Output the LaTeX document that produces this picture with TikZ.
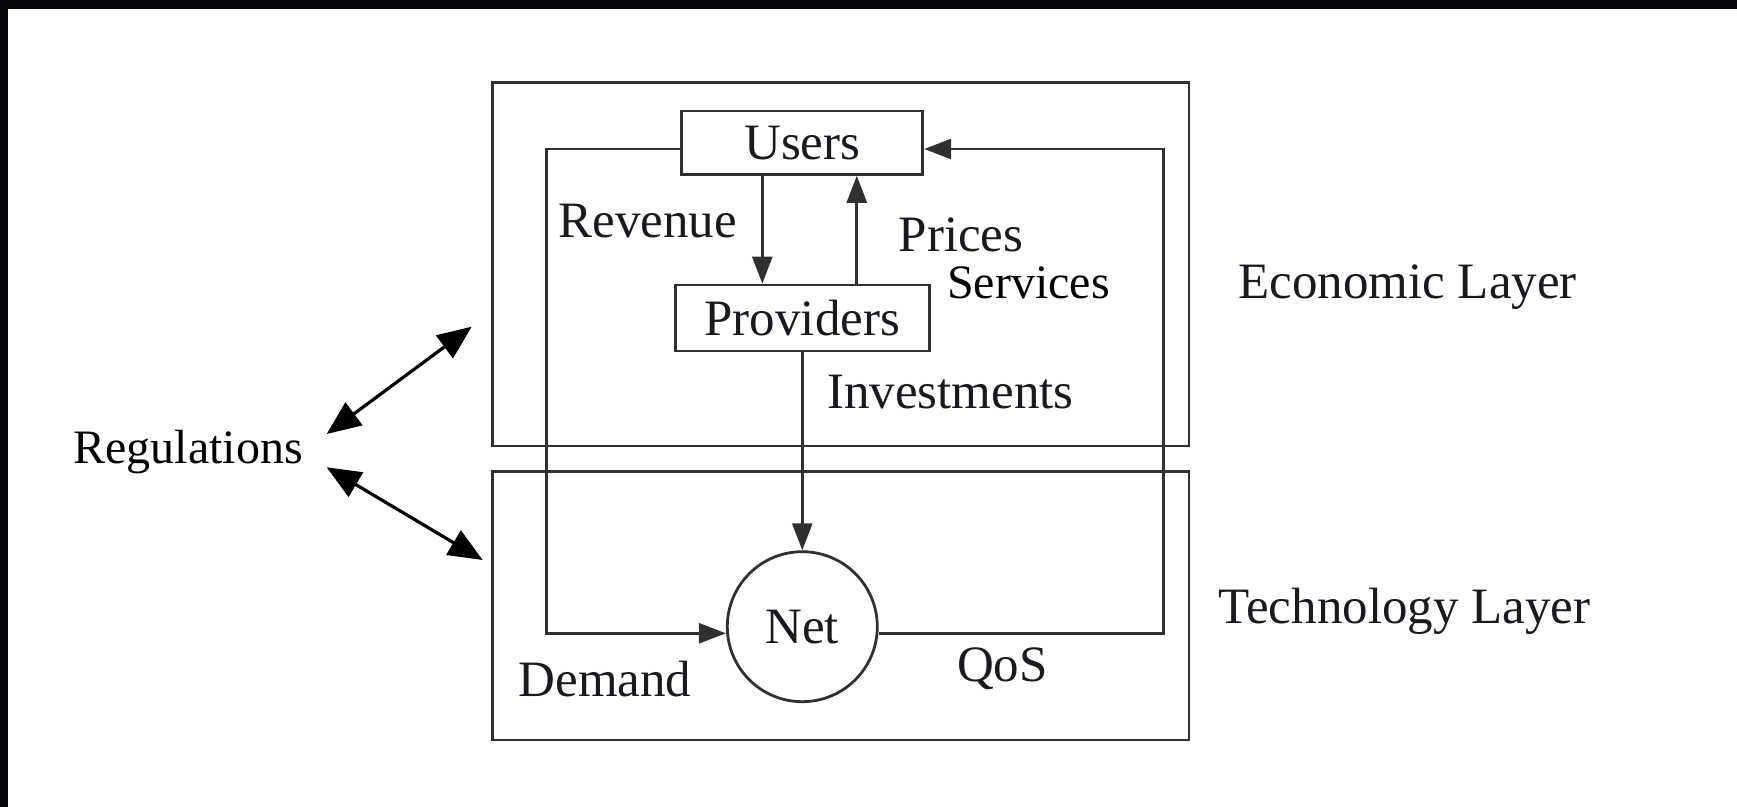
\documentclass[tikz,border=0pt]{standalone}
\usepackage{fontspec}
\setmainfont{Liberation Serif}
\usepackage{tikz}
\usetikzlibrary{arrows.meta,positioning,calc}
\definecolor{ink}{HTML}{303030}
\definecolor{scan}{HTML}{1A1A1E}
\definecolor{frame}{HTML}{05070A}

\begin{document}
\begin{tikzpicture}[yscale=-1, x=0.5pt, y=0.5pt, >={Triangle[length=13.5pt,width=10pt]},
  line/.style={line width=1.4pt, draw=ink},
  box/.style={line, rectangle, inner sep=0pt, font=\fontsize{25.5}{30}\selectfont, text=scan},
  lbl/.style={inner sep=0pt, anchor=base west, font=\fontsize{25.5}{30}\selectfont, text=scan},
  plainlbl/.style={inner sep=0pt, anchor=base west, font=\fontsize{24}{28}\selectfont, text=black},
  regarrow/.style={line width=1.6pt, {Triangle[length=17pt,width=14pt]}-{Triangle[length=17pt,width=14pt]}}]
\useasboundingbox (0,0) rectangle (1737,807);
\fill[frame] (0,0) rectangle (1737,9);
\fill[frame] (0,0) rectangle (8,807);
% layers
\draw[line] (492.7,82.7) rectangle (1189,446);
\draw[line] (492.7,471.7) rectangle (1189,740);
\node[box, minimum width=120.5pt, minimum height=31.7pt] (users) at (802.3,142.7) {Users};
\node[box, minimum width=127pt, minimum height=33pt] (providers) at (802.3,318) {Providers};
\node[box, circle, minimum size=75pt] (net) at (802.3,626.7) {Net};
\coordinate (dcorner) at (546.7,633.3);
\coordinate (qcorner) at (1163.3,149);
% flows
\draw[line,->] ($(users.south)+(-40,0)$) -- ($(providers.north)+(-40,0)$);
\draw[line,->] ($(providers.north)+(54.5,0)$) -- ($(users.south)+(54.5,0)$);
\draw[line,->] (providers.south) -- (net.north);
\draw[line,->] (users.west |- qcorner) -| (dcorner) -- (net.west |- dcorner);
\draw[line,->] (net.east |- dcorner) -| (qcorner) -- (users.east |- qcorner);
% regulations
\node[plainlbl] (reg) at (73,463.3) {Regulations};
\coordinate (regup) at (326.7,434);
\coordinate (reglow) at (326.7,467.3);
\coordinate (ecotip) at (471.7,326.7);
\coordinate (techtip) at (482.7,560);
\draw[regarrow] (regup) -- (ecotip);
\draw[regarrow] (reglow) -- (techtip);
% labels
\node[lbl] (rev) at (558,238) {Revenue};
\node[lbl] (prices) at (898.3,251.7) {Prices};
\node[plainlbl] (services) at (946.7,298.3) {Services};
\node[lbl] (invest) at (826.7,408.3) {Investments};
\node[lbl] (demand) at (518.3,696.7) {Demand};
\node[lbl] (qos) at (956.7,681.7) {QoS};
\node[lbl] (econ) at (1238,298.3) {Economic Layer};
\node[lbl] (tech) at (1218.3,623.3) {Technology Layer};
\end{tikzpicture}
\end{document}
